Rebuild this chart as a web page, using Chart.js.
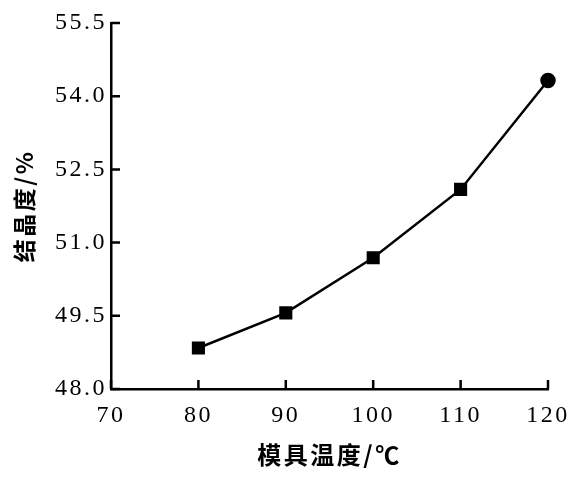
<!DOCTYPE html>
<html>
<head>
<meta charset="utf-8">
<script src="https://cdn.jsdelivr.net/npm/chart.js@4"></script>
<style>
  body { margin: 0; background: #fff; }
</style>
</head>
<body>
<canvas id="moldTempChart" width="581" height="480"></canvas>
<script>
  // 模具温度 vs 结晶度
  var moldTemps = [80, 90, 100, 110, 120];
  var crystallinity = [48.84, 49.56, 50.69, 52.09, 54.32];
  var markerStyles = ['rect', 'rect', 'rect', 'rect', 'circle'];
  var markerSizes = [7.5, 7.5, 7.5, 7.5, 6.5];
  var xTitle = '模具温度/℃';
  var yTitle = '结晶度/%';

  var points = [];
  for (let i = 0; i < moldTemps.length; i++) {
    points.push({ x: moldTemps[i], y: crystallinity[i] });
  }

  var tickFont = { family: '"Liberation Serif", "DejaVu Serif", serif', size: 24 };
  var titleFont = { family: '"Noto Sans CJK SC", sans-serif', weight: 'bold' };

  // spaced-out text like the scan, and tick marks pointing into the plot
  var inwardTicks = {
    id: 'inwardTicks',
    beforeDraw: function (chart) {
      chart.ctx.letterSpacing = '2.5px';
    },
    afterDraw: function (chart) {
      let ctx = chart.ctx;
      let xs = chart.scales.x, ys = chart.scales.y;
      let area = chart.chartArea;
      ctx.save();
      ctx.strokeStyle = '#000';
      ctx.lineWidth = 2.5;
      ctx.beginPath();
      xs.ticks.forEach(function (t) {
        let px = xs.getPixelForValue(t.value);
        ctx.moveTo(px, area.bottom);
        ctx.lineTo(px, area.bottom - 9);
      });
      ys.ticks.forEach(function (t) {
        let py = ys.getPixelForValue(t.value);
        ctx.moveTo(area.left, py);
        ctx.lineTo(area.left + 9, py);
      });
      ctx.stroke();
      ctx.restore();
      ctx.letterSpacing = '0px';
    }
  };

  new Chart(document.getElementById('moldTempChart'), {
    type: 'line',
    data: {
      datasets: [
        {
          data: points,
          borderColor: '#000000',
          backgroundColor: '#000000',
          borderWidth: 2.5,
          pointStyle: markerStyles,
          pointRadius: markerSizes,
          pointBackgroundColor: '#000000',
          pointBorderColor: '#000000',
          tension: 0,
          clip: false
        }
      ]
    },
    options: {
      responsive: false,
      animation: false,
      layout: { padding: { top: 23, right: 33, left: 0, bottom: 0 } },
      plugins: {
        legend: { display: false },
        tooltip: { enabled: false }
      },
      scales: {
        x: {
          type: 'linear',
          min: 70,
          max: 120,
          afterFit: function (scale) { scale.height = 91; },
          ticks: {
            stepSize: 10,
            color: '#000',
            font: tickFont,
            padding: 12,
            maxRotation: 0
          },
          grid: { drawOnChartArea: false, drawTicks: false },
          border: { display: true, color: '#000', width: 2.5 },
          title: {
            display: true,
            text: xTitle,
            color: '#000',
            font: Object.assign({ size: 24 }, titleFont),
            padding: { top: 0, bottom: 11 }
          }
        },
        y: {
          min: 48,
          max: 55.5,
          afterFit: function (scale) { scale.width = 111; },
          ticks: {
            stepSize: 1.5,
            color: '#000',
            font: tickFont,
            padding: 4,
            callback: function (v) { return v.toFixed(1); }
          },
          grid: { drawOnChartArea: false, drawTicks: false },
          border: { display: true, color: '#000', width: 2.5 },
          title: {
            display: true,
            text: yTitle,
            color: '#000',
            font: Object.assign({ size: 23 }, titleFont),
            padding: { top: 10, bottom: 0 }
          }
        }
      }
    },
    plugins: [inwardTicks]
  });
</script>
</body>
</html>
